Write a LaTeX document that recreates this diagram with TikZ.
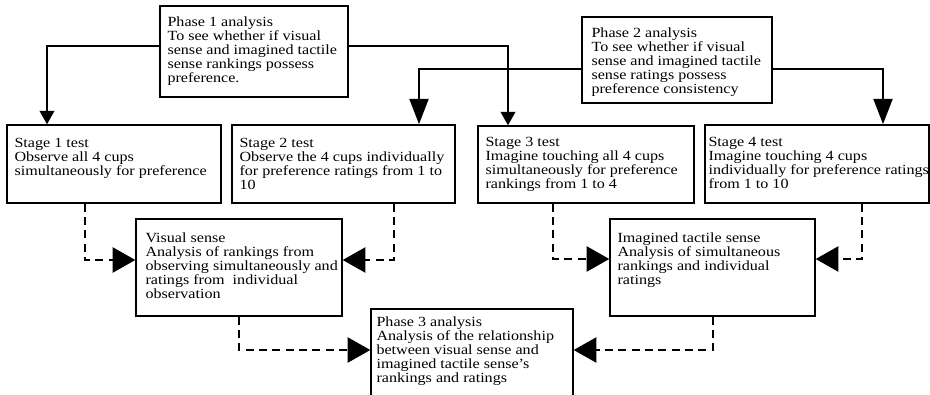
\documentclass[tikz,border=0pt]{standalone}
\usepackage{fontspec}
\setmainfont{Liberation Serif}[FakeStretch=1.15]
\usetikzlibrary{arrows.meta,fit,calc}
\begin{document}
\begin{tikzpicture}[x=0.75pt,y=-0.75pt,
  box/.style={draw,line width=1.1pt,inner sep=0pt,rectangle},
  txt/.style={anchor=north west,inner sep=0pt,align=left,font=\fontsize{10.5pt}{10.5pt}\selectfont},
  thinarr/.style={line width=1.1pt,-{Triangle[length=10pt,width=11pt]}},
  thickarr/.style={line width=2.2pt,-{Triangle[length=19pt,width=14pt]}},
  dasharr/.style={line width=1.1pt,dash pattern=on 6pt off 4pt,-{Triangle[length=17pt,width=19pt]}}]
\useasboundingbox (0,0) rectangle (930,395);
\fill[white] (0,0) rectangle (930,395);
\begin{scope}
\clip (0,0) rectangle (930,395);
% boxes
\node[box,fit={(160,6) (348,97)}] (p1) {};
\node[box,fit={(582,17) (772,103)}] (p2) {};
\node[box,fit={(7,125) (221,203)}] (s1) {};
\node[box,fit={(232,125) (455,203)}] (s2) {};
\node[box,fit={(478,126) (694,203)}] (s3) {};
\node[box,fit={(705,125) (929,203)}] (s4) {};
\node[box,fit={(136,219) (342,316)}] (v) {};
\node[box,fit={(610,219) (815,316)}] (t) {};
\node[box,fit={(371,309) (573,400)}] (p3) {};
% texts
\node[txt] (p1t) at ($(p1.north west)+(8,11)$) {Phase 1 analysis\\To see whether if visual\\sense and imagined tactile\\sense rankings possess\\preference.};
\node[txt] (p2t) at ($(p2.north west)+(10,11)$) {Phase 2 analysis\\To see whether if visual\\sense and imagined tactile\\sense ratings possess\\preference consistency};
\node[txt] (s1t) at ($(s1.north west)+(8,14)$) {Stage 1 test\\Observe all 4 cups\\simultaneously for preference};
\node[txt] (s2t) at ($(s2.north west)+(8,14)$) {Stage 2 test\\Observe the 4 cups individually\\for preference ratings from 1 to\\10};
\node[txt] (s3t) at ($(s3.north west)+(8,12)$) {Stage 3 test\\Imagine touching all 4 cups\\simultaneously for preference\\rankings from 1 to 4};
\node[txt] (s4t) at ($(s4.north west)+(4,13)$) {Stage 4 test\\Imagine touching 4 cups\\individually for preference ratings\\from 1 to 10};
\node[txt] (vt) at ($(v.north west)+(10,14)$) {Visual sense\\Analysis of rankings from\\observing simultaneously and\\ratings from\ \ individual\\observation};
\node[txt] (tt) at ($(t.north west)+(8,14)$) {Imagined tactile sense\\Analysis of simultaneous\\rankings and individual\\ratings};
\node[txt] (p3t) at ($(p3.north west)+(6,8)$) {Phase 3 analysis\\Analysis of the relationship\\between visual sense and\\imagined tactile sense’s\\rankings and ratings};
% turn points
\coordinate (k1) at (47,46);
\coordinate (k2) at (508,46);
\coordinate (k3) at (419,69);
\coordinate (k4) at (883,69);
\coordinate (d1) at (85,260);
\coordinate (d2) at (394,260);
\coordinate (d3) at (553,259);
\coordinate (d4) at (862,259);
\coordinate (d5) at (239,350);
\coordinate (d6) at (713,350);
% solid connectors
\draw[thinarr] (p1.west |- k1) -| (k1 |- s1.north);
\draw[thinarr] (p1.east |- k2) -| (k2 |- s3.north);
\draw[thickarr] (p2.west |- k3) -| (k3 |- s2.north);
\draw[thickarr] (p2.east |- k4) -| (k4 |- s4.north);
% dashed connectors
\draw[dasharr] (s1.south -| d1) |- (v.west |- d1);
\draw[dasharr] (s2.south -| d2) |- (v.east |- d2);
\draw[dasharr] (s3.south -| d3) |- (t.west |- d3);
\draw[dasharr] (s4.south -| d4) |- (t.east |- d4);
\draw[dasharr] (v.south -| d5) |- (p3.west |- d5);
\draw[dasharr] (t.south -| d6) |- (p3.east |- d6);
\end{scope}
\end{tikzpicture}
\end{document}
